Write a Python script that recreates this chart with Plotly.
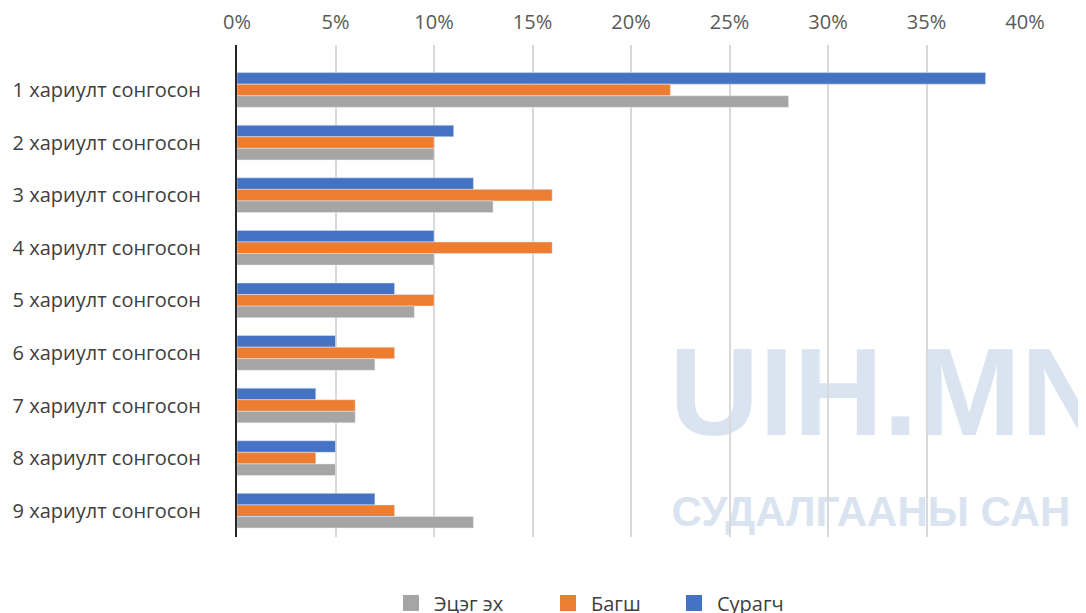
import plotly.graph_objects as go

categories = [f"{i} хариулт сонгосон" for i in range(1, 10)]
surgach = [38, 11, 12, 10, 8, 5, 4, 5, 7]      # Сурагч (blue)
bagsh = [22, 10, 16, 16, 10, 8, 6, 4, 8]       # Багш (orange)
etseg_eh = [28, 10, 13, 10, 9, 7, 6, 5, 12]    # Эцэг эх (gray)

series_names = ["Сурагч", "Багш", "Эцэг эх"]
series_values = [surgach, bagsh, etseg_eh]
series_colors = ["#4472C4", "#ED7D31", "#A5A5A5"]
legend_groups = ["legend2", "legend", "legend"]

FONT = "Open Sans, Noto Sans, sans-serif"

fig = go.Figure()
for name, vals, col in zip(series_names, series_values, series_colors):
    fig.add_trace(go.Bar(y=categories, x=vals, name=name, orientation="h",
                         marker=dict(color=col), showlegend=False))
# legend proxies (larger square symbols), order: Эцэг эх, Багш, Сурагч
for name, col, lg in reversed(list(zip(series_names, series_colors, legend_groups))):
    fig.add_trace(go.Scatter(x=[None], y=[None], mode="markers", name=name,
                             marker=dict(symbol="square", size=18, color=col),
                             showlegend=True, legend=lg))

# page body has an 8px margin: shrink figure so it fits the 1086x613 window
W, H = 1078, 605
plot_l, plot_r, plot_t, plot_b = 237, 1025, 45, 537
ph = plot_b - plot_t
pw = plot_r - plot_l

def px_x(x):
    return (x - plot_l) / pw

def px_y(y):
    return (plot_b - y) / ph

wm_color = "rgb(218,228,241)"
WM_FONT = "Liberation Sans, Arial, sans-serif"

fig.update_layout(
    width=W, height=H,
    margin=dict(l=plot_l - 8, r=1086 - plot_r, t=plot_t - 8, b=613 - plot_b,
                autoexpand=False),
    paper_bgcolor="white", plot_bgcolor="white",
    barmode="group", bargap=0.34, bargroupgap=0,
    font=dict(family=FONT, size=20, color="#404040"),
    xaxis=dict(side="top", range=[0, 40], dtick=5, ticksuffix="%",
               showgrid=True, gridcolor="#D9D9D9", gridwidth=2,
               zeroline=False, showline=False, ticks="",
               ticklabelstandoff=11,
               tickfont=dict(size=20, color="#595959")),
    yaxis=dict(type="category", range=[8.5, -0.855], showgrid=False,
               showline=True, linecolor="#262626", linewidth=2,
               ticks="", ticklabelstandoff=30,
               tickfont=dict(size=20, color="#404040")),
    legend=dict(orientation="h", traceorder="normal",
                x=px_x(388), xanchor="left", y=px_y(603), yanchor="middle",
                entrywidth=106, entrywidthmode="pixels", itemwidth=36,
                font=dict(size=20, color="#404040")),
    legend2=dict(orientation="h", traceorder="normal",
                 x=px_x(671), xanchor="left", y=px_y(603), yanchor="middle",
                 itemwidth=36,
                 font=dict(size=20, color="#404040")),
    showlegend=True,
    shapes=[
        dict(type="rect", xref="paper", yref="paper",
             x0=px_x(668), x1=px_x(1112),
             y0=px_y(460), y1=px_y(300),
             line=dict(width=0), fillcolor="rgba(0,0,0,0)", layer="below",
             label=dict(text="<b>UIH.MN</b>", textposition="middle center",
                        font=dict(family=WM_FONT, size=124, color=wm_color))),
        dict(type="rect", xref="paper", yref="paper",
             x0=px_x(664), x1=px_x(1078),
             y0=px_y(537), y1=px_y(477),
             line=dict(width=0), fillcolor="rgba(0,0,0,0)", layer="below",
             label=dict(text="<b>СУДАЛГААНЫ САН</b>", textposition="middle center",
                        font=dict(family=WM_FONT, size=42, color=wm_color))),
    ],
)

fig.write_html("out.html")
